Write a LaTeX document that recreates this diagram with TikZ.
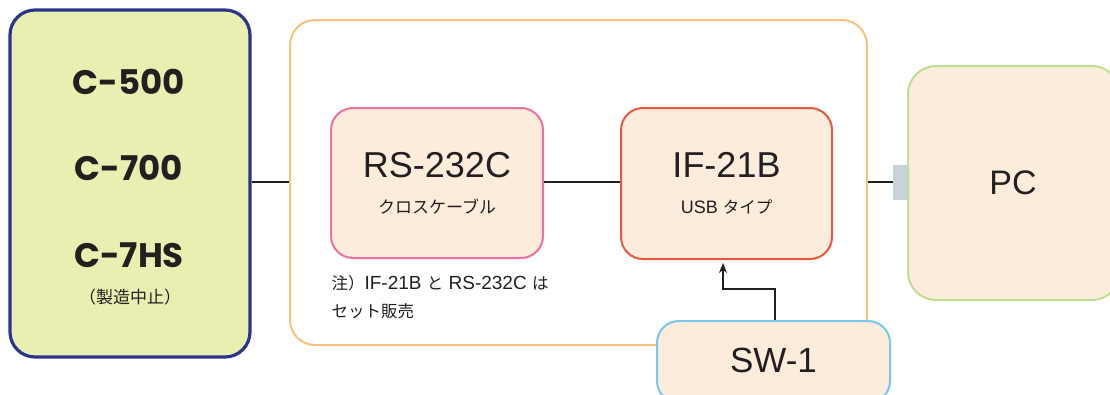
\documentclass[tikz,border=0pt]{standalone}
\usepackage{fontspec}
\setmainfont{Liberation Sans}
\newfontfamily\jpfont{Noto Sans CJK JP}
\newfontfamily\modelfont{Poppins}
\definecolor{navyline}{RGB}{44,52,140}
\definecolor{limefill}{RGB}{232,239,176}
\definecolor{framecol}{RGB}{250,192,125}
\definecolor{peachfill}{RGB}{252,236,219}
\definecolor{pinkline}{RGB}{236,112,160}
\definecolor{redline}{RGB}{232,88,62}
\definecolor{skyline}{RGB}{120,200,235}
\definecolor{greenline}{RGB}{190,222,145}
\definecolor{plugfill}{RGB}{200,211,217}
\definecolor{inkcol}{RGB}{35,31,32}
\usetikzlibrary{arrows.meta}
\newcommand{\jptext}[1]{{\jpfont\fontsize{16.5}{16.5}\selectfont #1}}

\begin{document}
\begin{tikzpicture}[
    x=1pt, y=-1pt,
    unit/.style={rounded corners=22pt, line width=2pt, fill=peachfill,
                 inner sep=0pt, align=center},
    modeltxt/.style={font=\modelfont\bfseries\fontsize{34}{34}\selectfont, text=inkcol},
    bigtxt/.style={font=\fontsize{36}{36}\selectfont, text=inkcol},
    subtxt/.style={font=\fontsize{18}{18}\selectfont, text=inkcol},
    wire/.style={line width=2pt, draw=inkcol},
    arr/.style={-{Stealth[length=10pt, width=8pt]}, line width=2pt, draw=inkcol}
  ]
  \useasboundingbox (0,0) rectangle (1110,394);
  \clip (0,0) rectangle (1110,394);

  % controller models
  \node[draw=navyline, fill=limefill, line width=3.2pt, rounded corners=25pt,
        minimum width=240pt, minimum height=347pt] (model) at (130,183.5) {};
  \node[modeltxt] (c500) at (129,82) {C-500};
  \node[modeltxt] (c700) at (129,168) {C-700};
  \node[modeltxt] (c7hs) at (129,255) {C-7HS};
  \node[subtxt, font=\jpfont\fontsize{17}{17}\selectfont] (stop) at (130,297) {（製造中止）};

  % interface set frame
  \node[draw=framecol, fill=white, line width=2pt, rounded corners=25pt,
        minimum width=577pt, minimum height=325pt] (frame) at (578.5,182.5) {};

  \node[unit, draw=pinkline, minimum width=212pt, minimum height=150pt] (rs) at (437,183) {};
  \node[bigtxt] (rstxt) at (437,165) {RS-232C};
  \node[subtxt, font=\jpfont\fontsize{17}{17}\selectfont] (rssub) at (437,207) {クロスケーブル};

  \node[unit, draw=redline, minimum width=211pt, minimum height=151pt] (ifb) at (726.5,183.5) {};
  \node[bigtxt] (iftxt) at (726.5,165) {IF-21B};
  \node[subtxt] (ifsub) at (726.5,207) {USB \jptext{タイプ}};

  \node[subtxt, anchor=north west, align=left,
        font=\fontsize{19}{28}\selectfont] (note) at (328,272)
        {\jptext{注）}IF-21B \jptext{と} RS-232C \jptext{は}\\\jptext{セット販売}};

  % switch box
  \node[unit, draw=skyline, minimum width=233pt, minimum height=82pt] (sw) at (773.5,362) {};
  \node[bigtxt, font=\fontsize{35}{35}\selectfont] (swtxt) at (773.5,360) {SW-1};

  % PC side
  \node[unit, draw=greenline, rounded corners=28pt,
        minimum width=212pt, minimum height=234pt] (pc) at (1014,183) {};
  \node[bigtxt, font=\fontsize{34}{34}\selectfont] (pctxt) at (1013,183) {PC};
  \node[fill=plugfill, inner sep=0pt, minimum width=14pt, minimum height=35pt] (plug) at (900,182.5) {};

  \draw[wire] (model.east |- 0,182) -- (frame.west |- 0,182);
  \draw[wire] (rs.east |- 0,182) -- (ifb.west |- 0,182);
  \draw[wire] (frame.east |- 0,182) -- (plug.west |- 0,182);
  \draw[arr] ([xshift=1.5pt]sw.north) -- ++(0,-31) -| ([xshift=-3.5pt, yshift=-3pt]ifb.south);
\end{tikzpicture}
\end{document}
